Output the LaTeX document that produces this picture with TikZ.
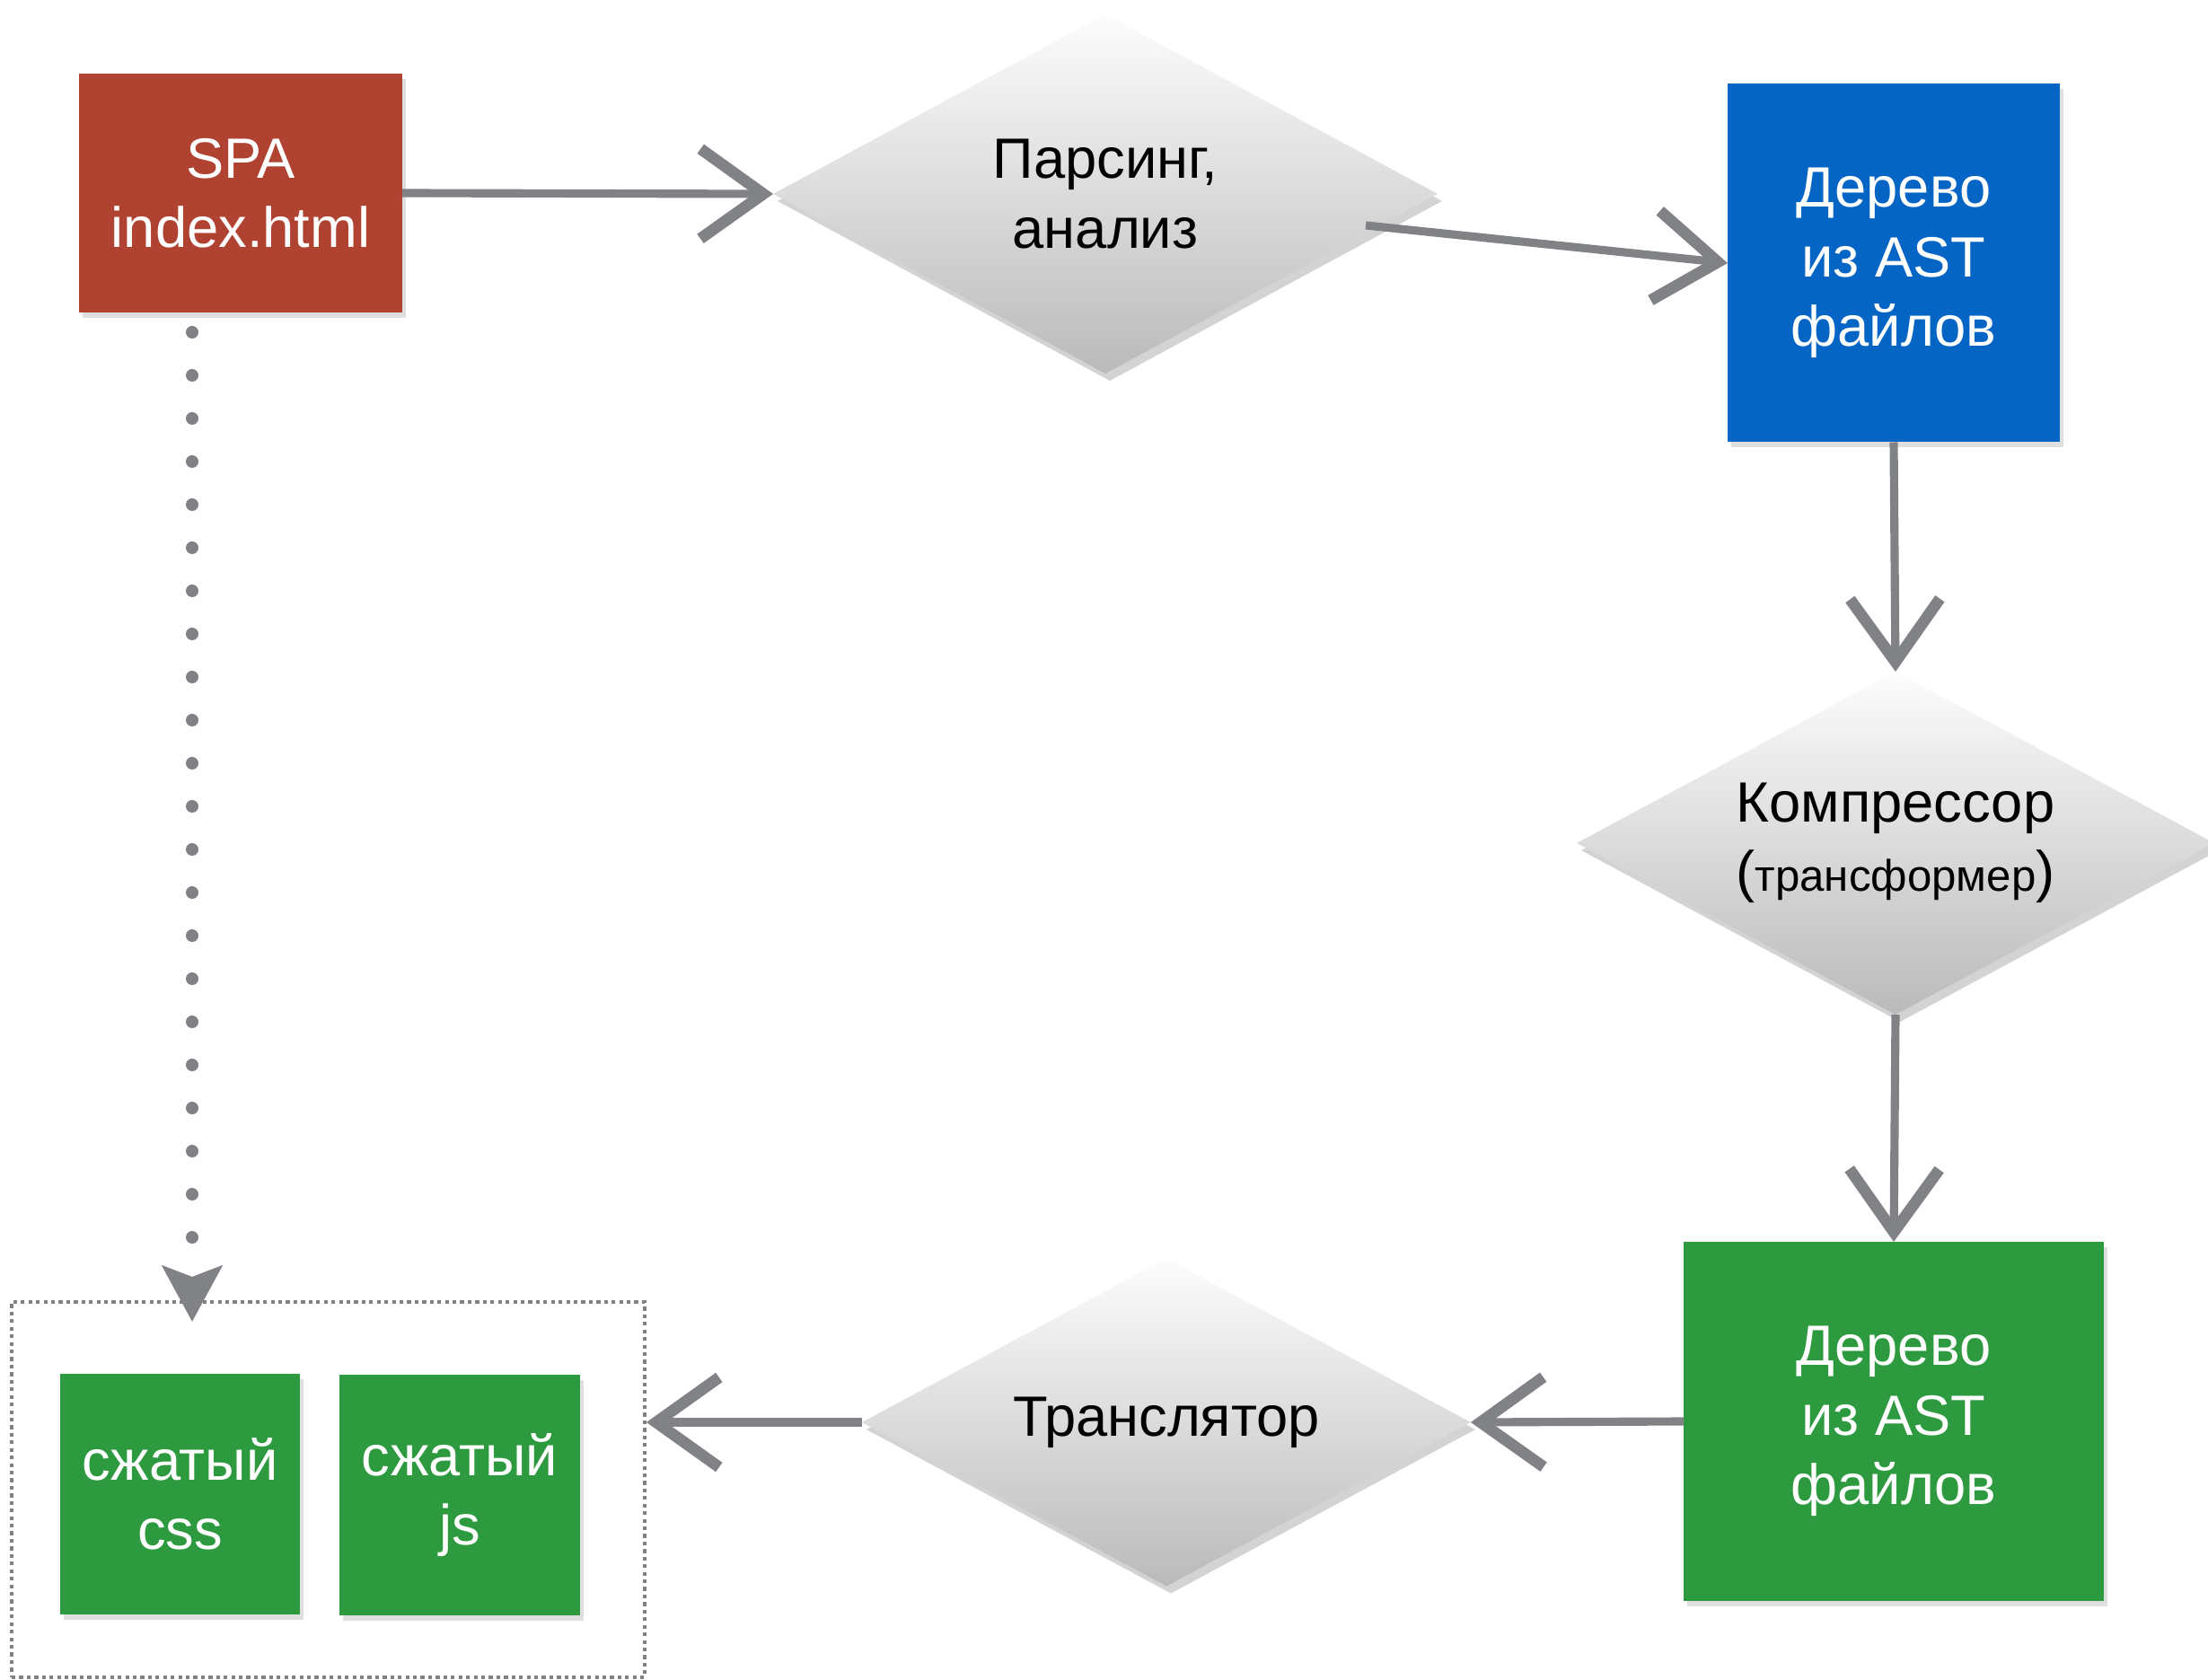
\documentclass[tikz,border=0pt]{standalone}
\usepackage{fontspec}
\setmainfont{Liberation Sans}
\usepackage{xcolor}
\usetikzlibrary{shapes.geometric, arrows.meta, shadows}

\definecolor{spared}{HTML}{B04232}
\definecolor{astblue}{HTML}{0565C5}
\definecolor{zipgreen}{HTML}{2E9A40}
\definecolor{arrowgray}{HTML}{808285}

\begin{document}
\begin{tikzpicture}[
    box/.style={rectangle, inner sep=0pt, outer sep=0pt, text=white, align=center,
        font=\fontsize{18}{22}\selectfont,
        drop shadow={opacity=0.25, shadow xshift=0.04cm, shadow yshift=-0.06cm}},
    decision/.style={diamond, aspect=1.85, inner sep=0pt, outer sep=0pt, align=center,
        font=\fontsize{18}{22}\selectfont, top color=black!1, bottom color=black!27,
        drop shadow={opacity=0.35, shadow xshift=0.05cm, shadow yshift=-0.08cm}},
    flow/.style={draw=arrowgray, line width=2.6pt,
        -{Straight Barb[length=0.7cm, width=1cm, line width=3.6pt]}},
    dotlink/.style={draw=arrowgray, line width=4pt, line cap=round,
        dash pattern=on 0pt off 0.48cm,
        -{Stealth[length=0.62cm, width=0.66cm, inset=0.12cm]}}
  ]
  \useasboundingbox (0,0) rectangle (24.59,-18.71);
  % Boxes
  \node (spa) at (2.68,-2.15) [box, fill=spared, minimum width=3.6cm, minimum height=2.66cm] {SPA\\index.html};
  \node (tree) at (21.09,-2.93) [box, fill=astblue, minimum width=3.7cm, minimum height=3.99cm] {Дерево\\из AST\\файлов};
  \node (zipped) at (21.09,-15.83) [box, fill=zipgreen, minimum width=4.68cm, minimum height=4cm] {Дерево\\из AST\\файлов};
  % Diamonds
  \node (parse) at (12.31,-2.16) [decision, minimum width=7.4cm, minimum height=4cm] {Парсинг,\\анализ};
  \node (compress) at (21.11,-9.39) [decision, minimum width=7.1cm, minimum height=3.82cm] {Компрессор\\({\fontsize{14}{22}\selectfont трансформер})};
  \node (trans) at (12.99,-15.84) [decision, minimum width=6.78cm, minimum height=3.65cm] {Транслятор};
  % Output group
  \node (group) at (3.655,-16.59) [draw=black!50, line width=1.1pt, dash pattern=on 1.2pt off 1.2pt,
        minimum width=7.05cm, minimum height=4.18cm] {};
  \node (css) at (2.005,-16.64) [box, fill=zipgreen, minimum width=2.67cm, minimum height=2.68cm] {сжатый\\css};
  \node (js) at (5.12,-16.65) [box, fill=zipgreen, minimum width=2.68cm, minimum height=2.68cm] {сжатый\\js};
  % Connectors
  \coordinate (parseout) at (15.21,-2.51);
  \coordinate (dtip) at (2.14,-14.72);
  \draw [flow] (spa.east) -- (parse.west);
  \draw [flow] (parseout) -- (tree.west);
  \draw [flow] (tree.south) -- (compress.north);
  \draw [flow] (compress.south) -- (zipped.north);
  \draw [flow] (zipped.west) -- (trans.east);
  \draw [flow] (trans.west) -- (trans.west -| group.east);
  \draw [dotlink] (dtip |- 0,-3.70) -- (dtip);
\end{tikzpicture}
\end{document}
